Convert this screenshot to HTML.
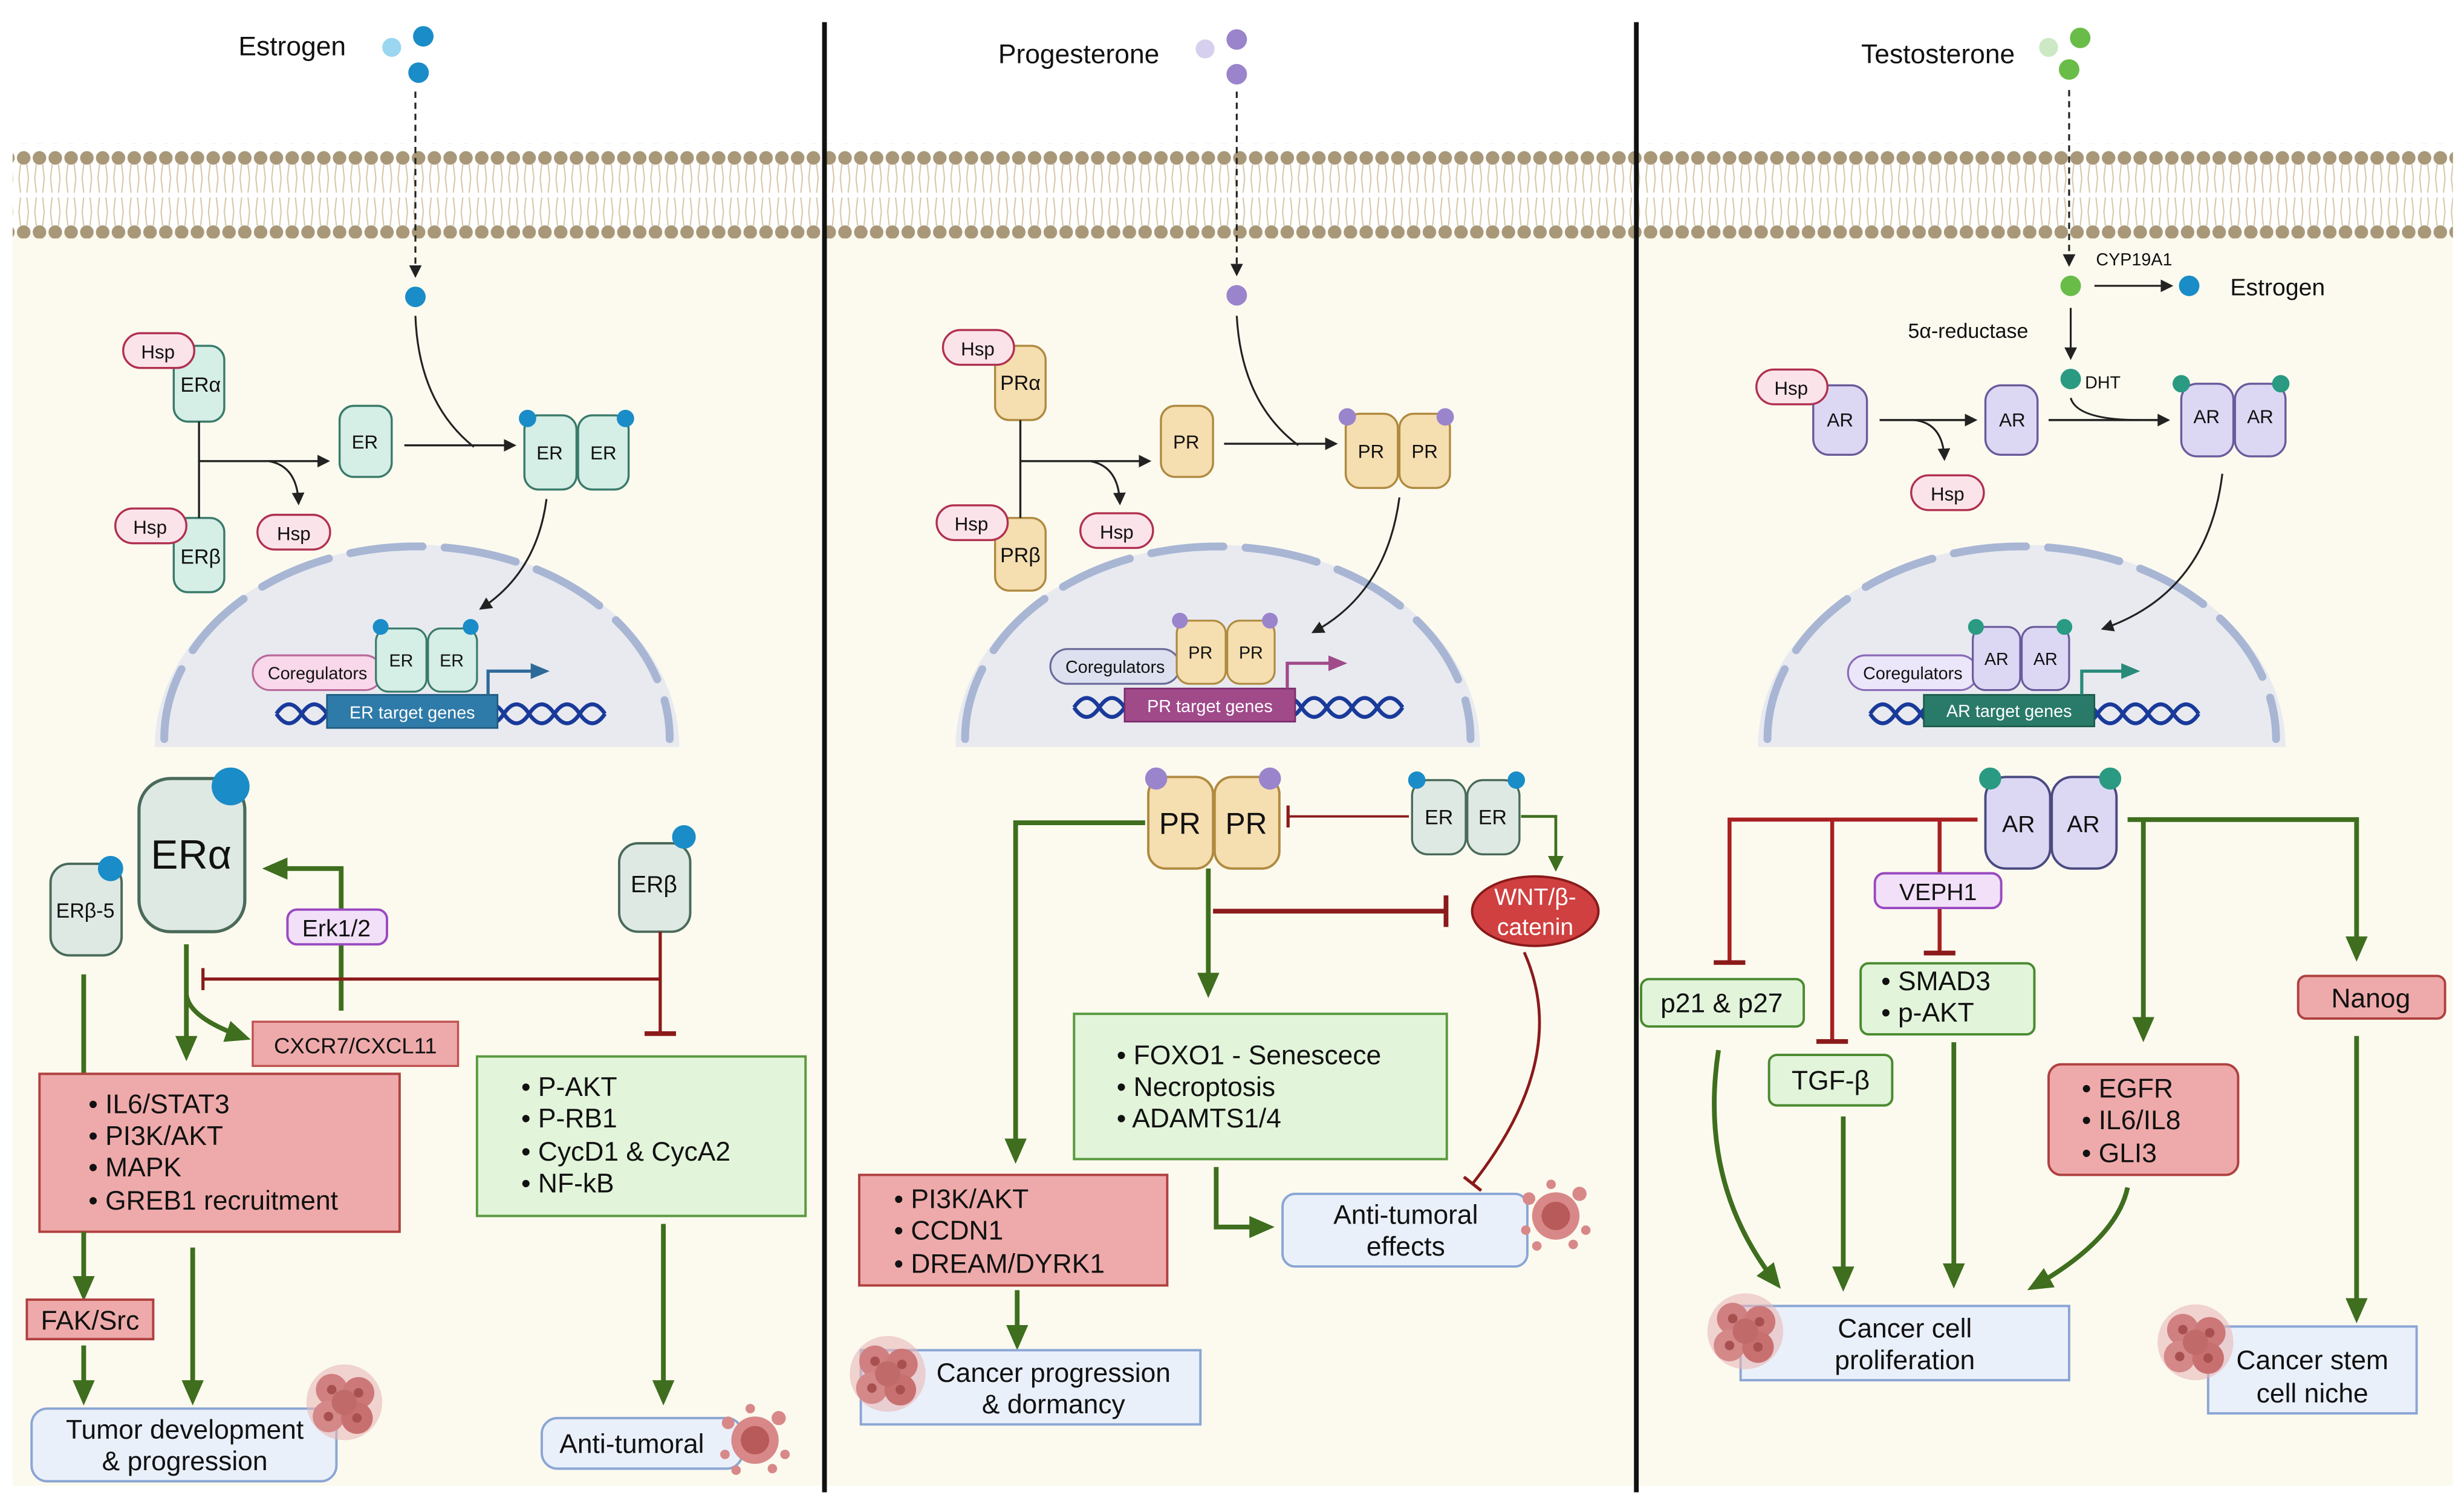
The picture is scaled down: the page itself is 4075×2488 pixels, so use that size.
<!DOCTYPE html>
<html><head><meta charset="utf-8"><style>
html,body{margin:0;padding:0;background:#fff}
svg{display:block}
text{font-family:"Liberation Sans",sans-serif;fill:#111}
</style></head><body>
<svg width="4075" height="2488" viewBox="0 0 1560 952.4" preserveAspectRatio="none" xmlns="http://www.w3.org/2000/svg">
<defs>
<pattern id="mem" x="0" y="91" width="10" height="60" patternUnits="userSpaceOnUse">
<path d="M3 13 L2 22 L3 31 M7 13 L8 22 L7 31 M3 34 L2 43 L3 52 M7 34 L8 43 L7 52" stroke="#d6c7a8" stroke-width="0.8" fill="none"/>
<circle cx="5" cy="9" r="4.3" fill="#a89878"/>
<circle cx="5" cy="56" r="4.3" fill="#a89878"/>
</pattern>
<marker id="ak" markerWidth="8" markerHeight="8" refX="6" refY="4" orient="auto" markerUnits="userSpaceOnUse"><path d="M0 0L8 4L0 8z" fill="#222"/></marker>
<marker id="ag" markerWidth="16" markerHeight="16" refX="12" refY="8" orient="auto" markerUnits="userSpaceOnUse"><path d="M0 1L16 8L0 15z" fill="#3e6e1e"/></marker>
<marker id="ags" markerWidth="10" markerHeight="10" refX="8" refY="5" orient="auto" markerUnits="userSpaceOnUse"><path d="M0 0L10 5L0 10z" fill="#3e6e1e"/></marker>
<marker id="bar" markerWidth="4" markerHeight="20" refX="2" refY="10" orient="auto" markerUnits="userSpaceOnUse"><rect x="0" y="0" width="3" height="20" fill="#8b1a1a"/></marker>
<marker id="bars" markerWidth="3" markerHeight="14" refX="1.5" refY="7" orient="auto" markerUnits="userSpaceOnUse"><rect x="0" y="0" width="2" height="14" fill="#8b1a1a"/></marker>
<marker id="ab" markerWidth="12" markerHeight="12" refX="9" refY="6" orient="auto" markerUnits="userSpaceOnUse"><path d="M0 1L12 6L0 11z" fill="#2e6a98"/></marker>
<marker id="ap" markerWidth="12" markerHeight="12" refX="9" refY="6" orient="auto" markerUnits="userSpaceOnUse"><path d="M0 1L12 6L0 11z" fill="#a04a8a"/></marker>
<marker id="at" markerWidth="12" markerHeight="12" refX="9" refY="6" orient="auto" markerUnits="userSpaceOnUse"><path d="M0 1L12 6L0 11z" fill="#2a8a7a"/></marker>
<g id="cells">
<circle cx="0" cy="0" r="24" fill="#e8b8b8" opacity="0.6"/>
<circle cx="-8" cy="-8" r="10" fill="#d08080"/><circle cx="9" cy="-6" r="10" fill="#cc7878"/>
<circle cx="-10" cy="9" r="10" fill="#d48888"/><circle cx="8" cy="10" r="10" fill="#c87070"/>
<circle cx="0" cy="0" r="8" fill="#c06a6a"/>
<circle cx="-8" cy="-8" r="3" fill="#a85050"/><circle cx="9" cy="-6" r="3" fill="#a85050"/><circle cx="-10" cy="9" r="3" fill="#a85050"/><circle cx="8" cy="10" r="3" fill="#a85050"/>
</g>
<g id="dying">
<circle cx="0" cy="0" r="15" fill="#d88888"/>
<circle cx="0" cy="0" r="9" fill="#b85a5a"/>
<circle cx="-17" cy="-11" r="4" fill="#d88888"/><circle cx="15" cy="-14" r="4.5" fill="#d88888"/><circle cx="19" cy="9" r="3" fill="#d88888"/>
<circle cx="-19" cy="9" r="3" fill="#d88888"/><circle cx="-12" cy="19" r="3" fill="#d88888"/><circle cx="11" cy="18" r="3" fill="#d88888"/><circle cx="-3" cy="-20" r="3" fill="#d88888"/>
</g>
</defs>

<rect x="0" y="0" width="1560" height="952.4" fill="#fff"/>
<rect x="8" y="148" width="1545" height="793" fill="#fcfaef"/>
<rect x="8" y="91" width="1545" height="60" fill="url(#mem)"/>
<line x1="522" y1="14" x2="522" y2="945" stroke="#111" stroke-width="3"/>
<line x1="1036" y1="14" x2="1036" y2="945" stroke="#111" stroke-width="3"/>

<!-- ================= PANEL 1 ================= -->
<text x="185" y="35" font-size="17" text-anchor="middle">Estrogen</text>
<circle cx="248" cy="30" r="6" fill="#9ad6f0"/><circle cx="268" cy="23" r="6.5" fill="#1a8cc8"/><circle cx="265" cy="46" r="6.5" fill="#1a8cc8"/>
<line x1="263" y1="58" x2="263" y2="174" stroke="#222" stroke-width="1.2" stroke-dasharray="4 3" marker-end="url(#ak)"/>
<circle cx="263" cy="188" r="6.5" fill="#1a8cc8"/>
<path d="M263 200 Q265 255 300 283" fill="none" stroke="#222" stroke-width="1.2"/>
<rect x="110" y="219" width="32" height="48" rx="9" fill="#d5eee6" stroke="#3a7a6a" stroke-width="1.3"/>
<text x="127" y="248" font-size="13" text-anchor="middle">ERα</text>
<rect x="78" y="211" width="45" height="22" rx="11" fill="#fbe3ea" stroke="#b03050" stroke-width="1.3"/>
<text x="100" y="227" font-size="12" text-anchor="middle">Hsp</text>
<rect x="110" y="328" width="32" height="47" rx="9" fill="#d5eee6" stroke="#3a7a6a" stroke-width="1.3"/>
<text x="127" y="357" font-size="13" text-anchor="middle">ERβ</text>
<rect x="73" y="322" width="45" height="22" rx="11" fill="#fbe3ea" stroke="#b03050" stroke-width="1.3"/>
<text x="95" y="338" font-size="12" text-anchor="middle">Hsp</text>
<line x1="126" y1="267" x2="126" y2="328" stroke="#222" stroke-width="1.3"/>
<line x1="126" y1="292" x2="207" y2="292" stroke="#222" stroke-width="1.3" marker-end="url(#ak)"/>
<path d="M170 292 Q188 295 189 318" fill="none" stroke="#222" stroke-width="1.2" marker-end="url(#ak)"/>
<rect x="163" y="326" width="46" height="22" rx="11" fill="#fbe3ea" stroke="#b03050" stroke-width="1.3"/>
<text x="186" y="342" font-size="12" text-anchor="middle">Hsp</text>
<rect x="215" y="257" width="33" height="45" rx="9" fill="#d5eee6" stroke="#3a7a6a" stroke-width="1.3"/>
<text x="231" y="284" font-size="12" text-anchor="middle">ER</text>
<line x1="256" y1="282" x2="325" y2="282" stroke="#222" stroke-width="1.3" marker-end="url(#ak)"/>
<rect x="332" y="263" width="33" height="47" rx="9" fill="#d5eee6" stroke="#3a7a6a" stroke-width="1.3"/>
<rect x="366" y="263" width="32" height="47" rx="9" fill="#d5eee6" stroke="#3a7a6a" stroke-width="1.3"/>
<text x="348" y="291" font-size="12" text-anchor="middle">ER</text><text x="382" y="291" font-size="12" text-anchor="middle">ER</text>
<circle cx="334" cy="265" r="5.5" fill="#1a8cc8"/><circle cx="396" cy="265" r="5.5" fill="#1a8cc8"/>
<path d="M98 473 A166 128 0 0 1 430 473 Z" fill="#e8eaf0"/>
<path d="M104 468 A160 122 0 0 1 424 468" fill="none" stroke="#a8b6d4" stroke-width="5" stroke-linecap="round" stroke-dasharray="46 14"/>
<path d="M346 316 Q340 362 305 385" fill="none" stroke="#222" stroke-width="1.2" marker-end="url(#ak)"/>
<path d="M175 452 q8 -12 16 0 q8 12 16 0 q8 -12 16 0 q8 12 16 0 q8 -12 16 0 q8 12 16 0 q8 -12 16 0 q8 12 16 0 q8 -12 16 0 q8 12 16 0 q8 -12 16 0 q8 12 16 0 q8 -12 16 0" fill="none" stroke="#1a3a9a" stroke-width="2.5"/>
<path d="M175 452 q8 12 16 0 q8 -12 16 0 q8 12 16 0 q8 -12 16 0 q8 12 16 0 q8 -12 16 0 q8 12 16 0 q8 -12 16 0 q8 12 16 0 q8 -12 16 0 q8 12 16 0 q8 -12 16 0 q8 12 16 0" fill="none" stroke="#1a3a9a" stroke-width="2.5"/>
<rect x="160" y="415" width="82" height="22" rx="11" fill="#f8d8ea" stroke="#b86a9a" stroke-width="1.2"/>
<text x="201" y="430" font-size="11" text-anchor="middle">Coregulators</text>
<rect x="238" y="398" width="32" height="40" rx="8" fill="#d5eee6" stroke="#3a7a6a" stroke-width="1.2"/>
<rect x="271" y="398" width="31" height="40" rx="8" fill="#d5eee6" stroke="#3a7a6a" stroke-width="1.2"/>
<text x="254" y="422" font-size="11" text-anchor="middle">ER</text><text x="286" y="422" font-size="11" text-anchor="middle">ER</text>
<circle cx="241" cy="397" r="5" fill="#1a8cc8"/><circle cx="298" cy="397" r="5" fill="#1a8cc8"/>
<rect x="207" y="440" width="108" height="21" fill="#2e7aa8" stroke="#1e5a80"/>
<text x="261" y="455" font-size="11" text-anchor="middle" style="fill:#fff">ER target genes</text>
<path d="M309 440 V425 H345" fill="none" stroke="#2e6a98" stroke-width="2" marker-end="url(#ab)"/>
<rect x="88" y="493" width="67" height="97" rx="20" fill="#dfe9e4" stroke="#4a6a5a" stroke-width="2"/>
<text x="121" y="550" font-size="26" text-anchor="middle">ERα</text>
<circle cx="146" cy="498" r="12" fill="#1a8cc8"/>
<rect x="32" y="547" width="45" height="58" rx="12" fill="#dfe9e4" stroke="#4a6a5a" stroke-width="1.5"/>
<text x="54" y="581" font-size="13" text-anchor="middle">ERβ-5</text>
<circle cx="70" cy="550" r="8" fill="#1a8cc8"/>
<rect x="392" y="534" width="45" height="56" rx="12" fill="#dfe9e4" stroke="#4a6a5a" stroke-width="1.5"/>
<text x="414" y="565" font-size="15" text-anchor="middle">ERβ</text>
<circle cx="433" cy="530" r="7.5" fill="#1a8cc8"/>
<path d="M216 640 V550 H170" fill="none" stroke="#3e6e1e" stroke-width="3" marker-end="url(#ag)"/>
<rect x="182" y="576" width="63" height="22" rx="6" fill="#f2e0f8" stroke="#9a4ac0" stroke-width="1.5"/>
<text x="213" y="593" font-size="15" text-anchor="middle">Erk1/2</text>
<path d="M418 590 V655" fill="none" stroke="#8b1a1a" stroke-width="2" marker-end="url(#bar)"/>
<path d="M418 620 H128" fill="none" stroke="#8b1a1a" stroke-width="2" marker-end="url(#bars)"/>
<line x1="118" y1="598" x2="118" y2="668" stroke="#3e6e1e" stroke-width="3" marker-end="url(#ag)"/>
<path d="M118 630 Q120 645 155 657" fill="none" stroke="#3e6e1e" stroke-width="3" marker-end="url(#ag)"/>
<rect x="160" y="647" width="130" height="28" fill="#eeaaaa" stroke="#c05050" stroke-width="1.3"/>
<text x="225" y="667" font-size="14" text-anchor="middle">CXCR7/CXCL11</text>
<line x1="53" y1="617" x2="53" y2="680" stroke="#3e6e1e" stroke-width="3"/>
<rect x="25" y="680" width="228" height="100" fill="#eeaaaa" stroke="#b04040" stroke-width="1.5"/>
<g font-size="17"><text x="56" y="705">•  IL6/STAT3</text><text x="56" y="725">•  PI3K/AKT</text><text x="56" y="745">•  MAPK</text><text x="56" y="766">•  GREB1 recruitment</text></g>
<rect x="302" y="669" width="208" height="101" fill="#e2f4da" stroke="#5a9a40" stroke-width="1.5"/>
<g font-size="17"><text x="330" y="694">•  P-AKT</text><text x="330" y="714">•  P-RB1</text><text x="330" y="735">•  CycD1 &amp; CycA2</text><text x="330" y="755">•  NF-kB</text></g>
<line x1="53" y1="780" x2="53" y2="820" stroke="#3e6e1e" stroke-width="3" marker-end="url(#ag)"/>
<rect x="17" y="823" width="80" height="25" fill="#eeaaaa" stroke="#b04040" stroke-width="1.5"/>
<text x="57" y="842" font-size="17" text-anchor="middle">FAK/Src</text>
<line x1="53" y1="852" x2="53" y2="886" stroke="#3e6e1e" stroke-width="3" marker-end="url(#ag)"/>
<line x1="122" y1="790" x2="122" y2="886" stroke="#3e6e1e" stroke-width="3" marker-end="url(#ag)"/>
<rect x="20" y="892" width="193" height="46" rx="10" fill="#eaf0fa" stroke="#8aa6d4" stroke-width="1.5"/>
<text x="117" y="911" font-size="17" text-anchor="middle">Tumor development</text>
<text x="117" y="931" font-size="17" text-anchor="middle">&amp; progression</text>
<use href="#cells" x="218" y="888"/>
<line x1="420" y1="775" x2="420" y2="886" stroke="#3e6e1e" stroke-width="3" marker-end="url(#ag)"/>
<rect x="343" y="898" width="127" height="32" rx="10" fill="#eaf0fa" stroke="#8aa6d4" stroke-width="1.5"/>
<text x="400" y="920" font-size="17" text-anchor="middle">Anti-tumoral</text>
<use href="#dying" x="478" y="912"/>

<!-- ================= PANEL 2 ================= -->
<text x="683" y="40" font-size="17" text-anchor="middle">Progesterone</text>
<circle cx="763" cy="31" r="6" fill="#d6d0ee"/><circle cx="783" cy="25" r="6.5" fill="#9a84cc"/><circle cx="783" cy="47" r="6.5" fill="#9a84cc"/>
<line x1="783" y1="58" x2="783" y2="173" stroke="#222" stroke-width="1.2" stroke-dasharray="4 3" marker-end="url(#ak)"/>
<circle cx="783" cy="187" r="6.5" fill="#9a84cc"/>
<path d="M783 200 Q786 255 822 282" fill="none" stroke="#222" stroke-width="1.2"/>
<rect x="630" y="219" width="32" height="47" rx="9" fill="#f5deb0" stroke="#b08a40" stroke-width="1.3"/>
<text x="646" y="247" font-size="13" text-anchor="middle">PRα</text>
<rect x="597" y="209" width="45" height="22" rx="11" fill="#fbe3ea" stroke="#b03050" stroke-width="1.3"/>
<text x="619" y="225" font-size="12" text-anchor="middle">Hsp</text>
<rect x="630" y="328" width="32" height="46" rx="9" fill="#f5deb0" stroke="#b08a40" stroke-width="1.3"/>
<text x="646" y="356" font-size="13" text-anchor="middle">PRβ</text>
<rect x="593" y="320" width="45" height="22" rx="11" fill="#fbe3ea" stroke="#b03050" stroke-width="1.3"/>
<text x="615" y="336" font-size="12" text-anchor="middle">Hsp</text>
<line x1="646" y1="266" x2="646" y2="328" stroke="#222" stroke-width="1.3"/>
<line x1="646" y1="292" x2="727" y2="292" stroke="#222" stroke-width="1.3" marker-end="url(#ak)"/>
<path d="M690 292 Q708 295 709 318" fill="none" stroke="#222" stroke-width="1.2" marker-end="url(#ak)"/>
<rect x="684" y="325" width="46" height="22" rx="11" fill="#fbe3ea" stroke="#b03050" stroke-width="1.3"/>
<text x="707" y="341" font-size="12" text-anchor="middle">Hsp</text>
<rect x="735" y="257" width="33" height="45" rx="9" fill="#f5deb0" stroke="#b08a40" stroke-width="1.3"/>
<text x="751" y="284" font-size="12" text-anchor="middle">PR</text>
<line x1="775" y1="281" x2="845" y2="281" stroke="#222" stroke-width="1.3" marker-end="url(#ak)"/>
<rect x="852" y="262" width="33" height="47" rx="9" fill="#f5deb0" stroke="#b08a40" stroke-width="1.3"/>
<rect x="886" y="262" width="32" height="47" rx="9" fill="#f5deb0" stroke="#b08a40" stroke-width="1.3"/>
<text x="868" y="290" font-size="12" text-anchor="middle">PR</text><text x="902" y="290" font-size="12" text-anchor="middle">PR</text>
<circle cx="853" cy="264" r="5.5" fill="#9a84cc"/><circle cx="915" cy="264" r="5.5" fill="#9a84cc"/>
<path d="M605 473 A166 128 0 0 1 937 473 Z" fill="#e8eaf0"/>
<path d="M611 468 A160 122 0 0 1 931 468" fill="none" stroke="#a8b6d4" stroke-width="5" stroke-linecap="round" stroke-dasharray="46 14"/>
<path d="M886 315 Q878 375 832 400" fill="none" stroke="#222" stroke-width="1.2" marker-end="url(#ak)"/>
<path d="M680 448 q8 -12 16 0 q8 12 16 0 q8 -12 16 0 q8 12 16 0 q8 -12 16 0 q8 12 16 0 q8 -12 16 0 q8 12 16 0 q8 -12 16 0 q8 12 16 0 q8 -12 16 0 q8 12 16 0 q8 -12 16 0" fill="none" stroke="#1a3a9a" stroke-width="2.5"/>
<path d="M680 448 q8 12 16 0 q8 -12 16 0 q8 12 16 0 q8 -12 16 0 q8 12 16 0 q8 -12 16 0 q8 12 16 0 q8 -12 16 0 q8 12 16 0 q8 -12 16 0 q8 12 16 0 q8 -12 16 0 q8 12 16 0" fill="none" stroke="#1a3a9a" stroke-width="2.5"/>
<rect x="665" y="411" width="82" height="22" rx="11" fill="#dde0ee" stroke="#6a6a9a" stroke-width="1.2"/>
<text x="706" y="426" font-size="11" text-anchor="middle">Coregulators</text>
<rect x="745" y="393" width="31" height="40" rx="8" fill="#f5deb0" stroke="#b08a40" stroke-width="1.2"/>
<rect x="777" y="393" width="30" height="40" rx="8" fill="#f5deb0" stroke="#b08a40" stroke-width="1.2"/>
<text x="760" y="417" font-size="11" text-anchor="middle">PR</text><text x="792" y="417" font-size="11" text-anchor="middle">PR</text>
<circle cx="747" cy="393" r="5" fill="#9a84cc"/><circle cx="804" cy="393" r="5" fill="#9a84cc"/>
<rect x="712" y="436" width="108" height="21" fill="#a04a8a" stroke="#7a2a6a"/>
<text x="766" y="451" font-size="11" text-anchor="middle" style="fill:#fff">PR target genes</text>
<path d="M815 436 V420 H850" fill="none" stroke="#a04a8a" stroke-width="2" marker-end="url(#ap)"/>
<rect x="727" y="492" width="41" height="58" rx="11" fill="#f5deb0" stroke="#b08a40" stroke-width="1.5"/>
<rect x="769" y="492" width="41" height="58" rx="11" fill="#f5deb0" stroke="#b08a40" stroke-width="1.5"/>
<text x="747" y="528" font-size="19" text-anchor="middle">PR</text><text x="789" y="528" font-size="19" text-anchor="middle">PR</text>
<circle cx="732" cy="493" r="7" fill="#9a84cc"/><circle cx="804" cy="493" r="7" fill="#9a84cc"/>
<rect x="894" y="494" width="34" height="47" rx="10" fill="#dfe9e4" stroke="#4a6a5a" stroke-width="1.3"/>
<rect x="929" y="494" width="33" height="47" rx="10" fill="#dfe9e4" stroke="#4a6a5a" stroke-width="1.3"/>
<text x="911" y="522" font-size="13" text-anchor="middle">ER</text><text x="945" y="522" font-size="13" text-anchor="middle">ER</text>
<circle cx="897" cy="494" r="5.5" fill="#1a8cc8"/><circle cx="960" cy="494" r="5.5" fill="#1a8cc8"/>
<path d="M892 517 H815" fill="none" stroke="#8b1a1a" stroke-width="1.5" marker-end="url(#bars)"/>
<path d="M963 517 H985 V550" fill="none" stroke="#3e6e1e" stroke-width="1.8" marker-end="url(#ags)"/>
<ellipse cx="972" cy="577" rx="40" ry="22" fill="#d04040" stroke="#8a1a1a" stroke-width="1.5"/>
<text x="972" y="573" font-size="15" text-anchor="middle" style="fill:#fff">WNT/β-</text>
<text x="972" y="592" font-size="15" text-anchor="middle" style="fill:#fff">catenin</text>
<path d="M768 577 H916" fill="none" stroke="#8b1a1a" stroke-width="3" marker-end="url(#bar)"/>
<path d="M725 521 H643 V733" fill="none" stroke="#3e6e1e" stroke-width="3" marker-end="url(#ag)"/>
<line x1="765" y1="550" x2="765" y2="628" stroke="#3e6e1e" stroke-width="3" marker-end="url(#ag)"/>
<rect x="680" y="642" width="236" height="92" fill="#e2f4da" stroke="#5a9a40" stroke-width="1.5"/>
<g font-size="17"><text x="707" y="674">•  FOXO1 - Senescece</text><text x="707" y="694">•  Necroptosis</text><text x="707" y="714">•  ADAMTS1/4</text></g>
<rect x="544" y="744" width="195" height="70" fill="#eeaaaa" stroke="#b04040" stroke-width="1.5"/>
<g font-size="17"><text x="566" y="765">•  PI3K/AKT</text><text x="566" y="785">•  CCDN1</text><text x="566" y="806">•  DREAM/DYRK1</text></g>
<line x1="644" y1="817" x2="644" y2="851" stroke="#3e6e1e" stroke-width="3" marker-end="url(#ag)"/>
<rect x="545" y="855" width="215" height="47" fill="#eaf0fa" stroke="#8aa6d4" stroke-width="1.5"/>
<text x="667" y="875" font-size="17" text-anchor="middle">Cancer progression</text>
<text x="667" y="895" font-size="17" text-anchor="middle">&amp; dormancy</text>
<use href="#cells" x="562" y="870"/>
<path d="M770 739 V777 H803" fill="none" stroke="#3e6e1e" stroke-width="3" marker-end="url(#ag)"/>
<rect x="812" y="756" width="155" height="46" rx="8" fill="#eaf0fa" stroke="#8aa6d4" stroke-width="1.5"/>
<text x="890" y="775" font-size="17" text-anchor="middle">Anti-tumoral</text>
<text x="890" y="795" font-size="17" text-anchor="middle">effects</text>
<use href="#dying" x="985" y="770"/>
<path d="M965 603 Q995 670 932 750" fill="none" stroke="#8b1a1a" stroke-width="1.8" marker-end="url(#bars)"/>

<!-- ================= PANEL 3 ================= -->
<text x="1227" y="40" font-size="17" text-anchor="middle">Testosterone</text>
<circle cx="1297" cy="30" r="6" fill="#cde8c4"/><circle cx="1317" cy="24" r="6.5" fill="#6abc48"/><circle cx="1310" cy="44" r="6.5" fill="#6abc48"/>
<line x1="1310" y1="57" x2="1310" y2="167" stroke="#222" stroke-width="1.2" stroke-dasharray="4 3" marker-end="url(#ak)"/>
<circle cx="1311" cy="181" r="6.5" fill="#6abc48"/>
<text x="1327" y="168" font-size="11">CYP19A1</text>
<line x1="1326" y1="181" x2="1374" y2="181" stroke="#222" stroke-width="1.2" marker-end="url(#ak)"/>
<circle cx="1386" cy="181" r="6.5" fill="#1a8cc8"/>
<text x="1412" y="187" font-size="15">Estrogen</text>
<text x="1208" y="214" font-size="13">5α-reductase</text>
<line x1="1311" y1="195" x2="1311" y2="226" stroke="#222" stroke-width="1.2" marker-end="url(#ak)"/>
<circle cx="1311" cy="240" r="6.5" fill="#2a9a82"/>
<text x="1320" y="246" font-size="11">DHT</text>
<path d="M1311 252 Q1315 266 1355 266" fill="none" stroke="#222" stroke-width="1.2"/>
<rect x="1148" y="244" width="34" height="44" rx="10" fill="#dcd8f4" stroke="#6a5a9a" stroke-width="1.3"/>
<text x="1165" y="270" font-size="12" text-anchor="middle">AR</text>
<rect x="1112" y="234" width="45" height="22" rx="11" fill="#fbe3ea" stroke="#b03050" stroke-width="1.3"/>
<text x="1134" y="250" font-size="12" text-anchor="middle">Hsp</text>
<line x1="1190" y1="266" x2="1250" y2="266" stroke="#222" stroke-width="1.3" marker-end="url(#ak)"/>
<path d="M1212 266 Q1230 268 1231 290" fill="none" stroke="#222" stroke-width="1.2" marker-end="url(#ak)"/>
<rect x="1210" y="301" width="46" height="22" rx="11" fill="#fbe3ea" stroke="#b03050" stroke-width="1.3"/>
<text x="1233" y="317" font-size="12" text-anchor="middle">Hsp</text>
<rect x="1257" y="244" width="33" height="44" rx="10" fill="#dcd8f4" stroke="#6a5a9a" stroke-width="1.3"/>
<text x="1274" y="270" font-size="12" text-anchor="middle">AR</text>
<line x1="1297" y1="266" x2="1372" y2="266" stroke="#222" stroke-width="1.3" marker-end="url(#ak)"/>
<rect x="1381" y="243" width="33" height="46" rx="10" fill="#dcd8f4" stroke="#6a5a9a" stroke-width="1.3"/>
<rect x="1415" y="243" width="32" height="46" rx="10" fill="#dcd8f4" stroke="#6a5a9a" stroke-width="1.3"/>
<text x="1397" y="268" font-size="12" text-anchor="middle">AR</text><text x="1431" y="268" font-size="12" text-anchor="middle">AR</text>
<circle cx="1381" cy="243" r="5.5" fill="#2a9a82"/><circle cx="1444" cy="243" r="5.5" fill="#2a9a82"/>
<path d="M1113 473 A167 128 0 0 1 1447 473 Z" fill="#e8eaf0"/>
<path d="M1119 468 A161 122 0 0 1 1441 468" fill="none" stroke="#a8b6d4" stroke-width="5" stroke-linecap="round" stroke-dasharray="46 14"/>
<path d="M1407 300 Q1398 375 1332 398" fill="none" stroke="#222" stroke-width="1.2" marker-end="url(#ak)"/>
<path d="M1184 452 q8 -12 16 0 q8 12 16 0 q8 -12 16 0 q8 12 16 0 q8 -12 16 0 q8 12 16 0 q8 -12 16 0 q8 12 16 0 q8 -12 16 0 q8 12 16 0 q8 -12 16 0 q8 12 16 0 q8 -12 16 0" fill="none" stroke="#1a3a9a" stroke-width="2.5"/>
<path d="M1184 452 q8 12 16 0 q8 -12 16 0 q8 12 16 0 q8 -12 16 0 q8 12 16 0 q8 -12 16 0 q8 12 16 0 q8 -12 16 0 q8 12 16 0 q8 -12 16 0 q8 12 16 0 q8 -12 16 0 q8 12 16 0" fill="none" stroke="#1a3a9a" stroke-width="2.5"/>
<rect x="1170" y="415" width="82" height="22" rx="11" fill="#ece6fa" stroke="#8a6ab8" stroke-width="1.2"/>
<text x="1211" y="430" font-size="11" text-anchor="middle">Coregulators</text>
<rect x="1249" y="397" width="30" height="40" rx="8" fill="#dcd8f4" stroke="#6a5a9a" stroke-width="1.2"/>
<rect x="1280" y="397" width="30" height="40" rx="8" fill="#dcd8f4" stroke="#6a5a9a" stroke-width="1.2"/>
<text x="1264" y="421" font-size="11" text-anchor="middle">AR</text><text x="1295" y="421" font-size="11" text-anchor="middle">AR</text>
<circle cx="1251" cy="397" r="5" fill="#2a9a82"/><circle cx="1307" cy="397" r="5" fill="#2a9a82"/>
<rect x="1218" y="440" width="108" height="20" fill="#2a7a6a" stroke="#1a5a4a"/>
<text x="1272" y="454" font-size="11" text-anchor="middle" style="fill:#fff">AR target genes</text>
<path d="M1318 440 V425 H1352" fill="none" stroke="#2a8a7a" stroke-width="2" marker-end="url(#at)"/>
<rect x="1257" y="492" width="41" height="58" rx="13" fill="#dcd8f4" stroke="#4a4a80" stroke-width="1.5"/>
<rect x="1299" y="492" width="41" height="58" rx="13" fill="#dcd8f4" stroke="#4a4a80" stroke-width="1.5"/>
<text x="1278" y="527" font-size="15" text-anchor="middle">AR</text><text x="1319" y="527" font-size="15" text-anchor="middle">AR</text>
<circle cx="1260" cy="493" r="7" fill="#2a9a82"/><circle cx="1336" cy="493" r="7" fill="#2a9a82"/>
<path d="M1252 519 H1095 V610" fill="none" stroke="#a82020" stroke-width="2.5" marker-end="url(#bar)"/>
<path d="M1160 519 V660" fill="none" stroke="#a82020" stroke-width="2.5" marker-end="url(#bar)"/>
<line x1="1228" y1="519" x2="1228" y2="553" stroke="#a82020" stroke-width="2.5"/>
<path d="M1228 575 V604" fill="none" stroke="#a82020" stroke-width="2.5" marker-end="url(#bar)"/>
<rect x="1187" y="553" width="80" height="22" rx="6" fill="#f2e0f8" stroke="#9a4ac0" stroke-width="1.5"/>
<text x="1227" y="570" font-size="15" text-anchor="middle">VEPH1</text>
<path d="M1347 519 H1492 V605" fill="none" stroke="#3e6e1e" stroke-width="3" marker-end="url(#ag)"/>
<line x1="1357" y1="519" x2="1357" y2="656" stroke="#3e6e1e" stroke-width="3" marker-end="url(#ag)"/>
<rect x="1039" y="620" width="103" height="30" rx="5" fill="#e2f4da" stroke="#4a8a30" stroke-width="1.5"/>
<text x="1090" y="641" font-size="17" text-anchor="middle">p21 &amp; p27</text>
<rect x="1120" y="668" width="78" height="32" rx="5" fill="#e2f4da" stroke="#4a8a30" stroke-width="1.5"/>
<text x="1159" y="690" font-size="17" text-anchor="middle">TGF-β</text>
<rect x="1178" y="610" width="110" height="45" rx="5" fill="#e2f4da" stroke="#4a8a30" stroke-width="1.5"/>
<g font-size="17"><text x="1191" y="627">•  SMAD3</text><text x="1191" y="647">•  p-AKT</text></g>
<rect x="1455" y="618" width="93" height="27" rx="5" fill="#eeaaaa" stroke="#b04040" stroke-width="1.5"/>
<text x="1501" y="638" font-size="17" text-anchor="middle">Nanog</text>
<rect x="1297" y="674" width="120" height="70" rx="8" fill="#eeaaaa" stroke="#b04040" stroke-width="1.5"/>
<g font-size="17"><text x="1318" y="695">•  EGFR</text><text x="1318" y="715">•  IL6/IL8</text><text x="1318" y="736">•  GLI3</text></g>
<path d="M1088 665 Q1075 750 1125 813" fill="none" stroke="#3e6e1e" stroke-width="3" marker-end="url(#ag)"/>
<line x1="1167" y1="707" x2="1167" y2="814" stroke="#3e6e1e" stroke-width="3" marker-end="url(#ag)"/>
<line x1="1237" y1="660" x2="1237" y2="812" stroke="#3e6e1e" stroke-width="3" marker-end="url(#ag)"/>
<path d="M1347 752 Q1340 785 1287 815" fill="none" stroke="#3e6e1e" stroke-width="3" marker-end="url(#ag)"/>
<rect x="1102" y="827" width="208" height="47" fill="#eaf0fa" stroke="#8aa6d4" stroke-width="1.5"/>
<text x="1206" y="847" font-size="17" text-anchor="middle">Cancer cell</text>
<text x="1206" y="867" font-size="17" text-anchor="middle">proliferation</text>
<use href="#cells" x="1105" y="843"/>
<line x1="1492" y1="656" x2="1492" y2="834" stroke="#3e6e1e" stroke-width="3" marker-end="url(#ag)"/>
<rect x="1398" y="840" width="132" height="55" fill="#eaf0fa" stroke="#8aa6d4" stroke-width="1.5"/>
<text x="1464" y="867" font-size="17" text-anchor="middle">Cancer stem</text>
<text x="1464" y="888" font-size="17" text-anchor="middle">cell niche</text>
<use href="#cells" x="1390" y="850"/>
</svg>
</body></html>
